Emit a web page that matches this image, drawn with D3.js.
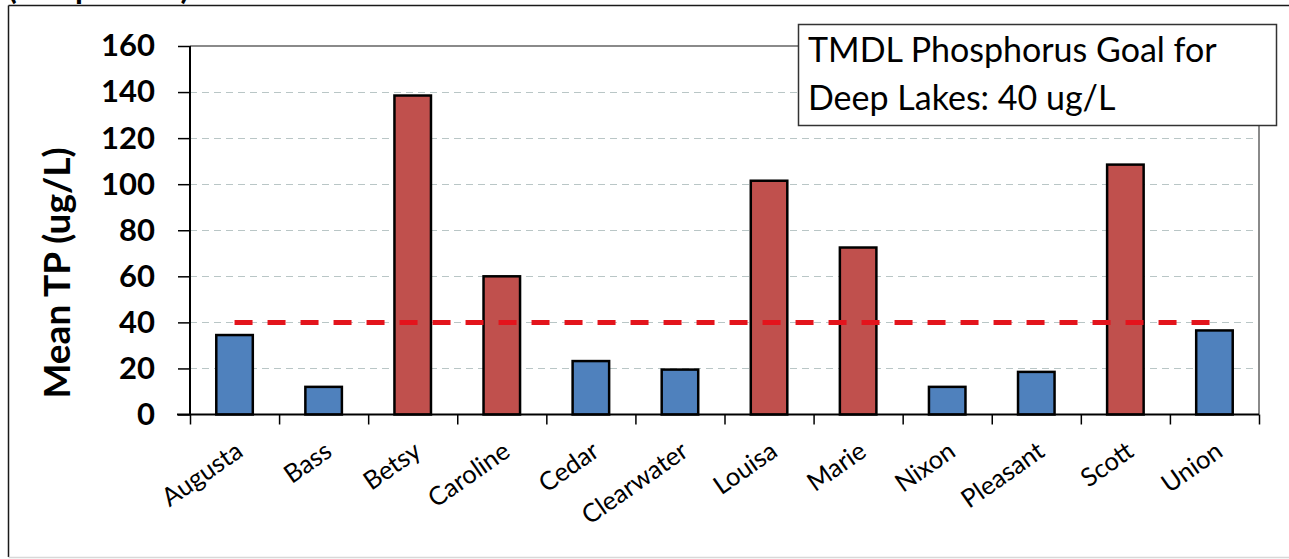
<!DOCTYPE html>
<html><head><meta charset="utf-8">
<script src="https://cdn.jsdelivr.net/npm/d3@7"></script>
<style>body{margin:0;background:#fff}svg{display:block}</style>
</head><body>
<svg id="c" width="1289" height="559"></svg>
<script>
const categories = ["Augusta","Bass","Betsy","Caroline","Cedar","Clearwater","Louisa","Marie","Nixon","Pleasant","Scott","Union"];
const meanTP = [34.5, 12, 138.5, 60, 23.2, 19.5, 101.5, 72.5, 12, 18.5, 108.5, 36.5];
const goalTP = [40, 40, 40, 40, 40, 40, 40, 40, 40, 40, 40, 40];
const yTicks = [0, 20, 40, 60, 80, 100, 120, 140, 160];
const chartTitle = "(Deep Lakes)";
const yTitle = "Mean TP (ug/L)";
const legendLines = ["TMDL Phosphorus Goal for", "Deep Lakes: 40 ug/L"];

const FONT = "Lato, 'Open Sans', sans-serif";
const svg = d3.select("#c");
const P = {l:190, r:1259, t:46, b:414.5};

const x = d3.scaleBand().domain(categories).range([P.l, P.r]).paddingInner(0.59).paddingOuter(0.295);
const xi = d3.scaleLinear().domain([0, categories.length]).range([P.l, P.r]);
const y = d3.scaleLinear().domain([0, 160]).range([P.b, P.t]);

// outer frame
svg.append("line").attr("x1",8.5).attr("x2",1289).attr("y1",5.5).attr("y2",5.5).attr("stroke","#1a1a1a").attr("stroke-width",1.5);
svg.append("line").attr("x1",8.5).attr("x2",8.5).attr("y1",5.5).attr("y2",557).attr("stroke","#1a1a1a").attr("stroke-width",1.5);
svg.append("line").attr("x1",8.5).attr("x2",1289).attr("y1",557.5).attr("y2",557.5).attr("stroke","#d8d8d8").attr("stroke-width",1.5);

// cut-off title (cut at the top edge as in the reference)
svg.append("text").attr("x",8).attr("y",-1).attr("font-family",FONT).attr("font-weight","bold")
  .attr("font-size",32).attr("fill","#000").text(chartTitle);

// gridlines
svg.append("g").selectAll("line").data(yTicks.filter(d => d > 0 && d < 160)).join("line")
  .attr("x1",P.l).attr("x2",P.r).attr("y1",d => Math.round(y(d))+0.5).attr("y2",d => Math.round(y(d))+0.5)
  .attr("stroke","#b9c6c6").attr("stroke-width",1.2).attr("stroke-dasharray","7,5");

// plot border top/right
svg.append("path").attr("d",`M${P.l},${P.t}H${P.r}V${P.b}`).attr("fill","none").attr("stroke","#8a8a8a").attr("stroke-width",2);

// bars
svg.append("g").selectAll("rect").data(categories).join("rect")
  .attr("x",d => x(d)).attr("width",x.bandwidth())
  .attr("y",(d,i) => y(meanTP[i])).attr("height",(d,i) => y(0) - y(meanTP[i]))
  .attr("fill",(d,i) => meanTP[i] > goalTP[i] ? "#C0504D" : "#4F81BD")
  .attr("stroke","#000").attr("stroke-width",2.5);

// goal line
const line = d3.line().x((d,i) => x(categories[i]) + x.bandwidth()/2).y(d => y(d));
svg.append("path").datum(goalTP).attr("d",line).attr("fill","none")
  .attr("stroke","#E3141C").attr("stroke-width",5).attr("stroke-dasharray","18,15");

// y axis
const ya = svg.append("g").attr("transform",`translate(${P.l},0)`)
  .call(d3.axisLeft(y).tickValues(yTicks).tickSize(12).tickPadding(23));
ya.select(".domain").attr("stroke","#000").attr("stroke-width",2).attr("d",`M0,${P.t}V${P.b}`);
ya.selectAll(".tick line").attr("stroke","#000").attr("stroke-width",1.5);
ya.selectAll(".tick text").attr("font-family",FONT).attr("font-weight","bold").attr("font-size",31).attr("fill","#000");

// x axis
const xa = svg.append("g").attr("transform",`translate(0,${P.b})`)
  .call(d3.axisBottom(xi).tickValues(d3.range(categories.length+1)).tickFormat("").tickSize(10).tickSizeOuter(0));
xa.select(".domain").attr("stroke","#000").attr("stroke-width",2).attr("d",`M${P.l-13},0H${P.r}`);
xa.selectAll(".tick line").attr("stroke","#000").attr("stroke-width",1.5);

// x labels
svg.append("g").selectAll("text").data(categories).join("text")
  .attr("transform",d => `translate(${x(d)+x.bandwidth()/2+10},455) rotate(-35)`)
  .attr("text-anchor","end").attr("font-family",FONT).attr("font-size",25.5).attr("fill","#000").text(d => d);

// y title
svg.append("text").attr("transform",`translate(70,273) rotate(-90)`).attr("text-anchor","middle")
  .attr("font-family",FONT).attr("font-weight","bold").attr("font-size",37).attr("fill","#000").text(yTitle);

// legend box
svg.append("rect").attr("x",798.5).attr("y",24.5).attr("width",478).attr("height",101)
  .attr("fill","#fff").attr("stroke","#333").attr("stroke-width",1.5);
svg.append("g").selectAll("text").data(legendLines).join("text")
  .attr("x",808).attr("y",(d,i) => 62 + i*48).attr("font-family",FONT).attr("font-size",34).attr("fill","#000").text(d => d);
</script>
</body></html>
